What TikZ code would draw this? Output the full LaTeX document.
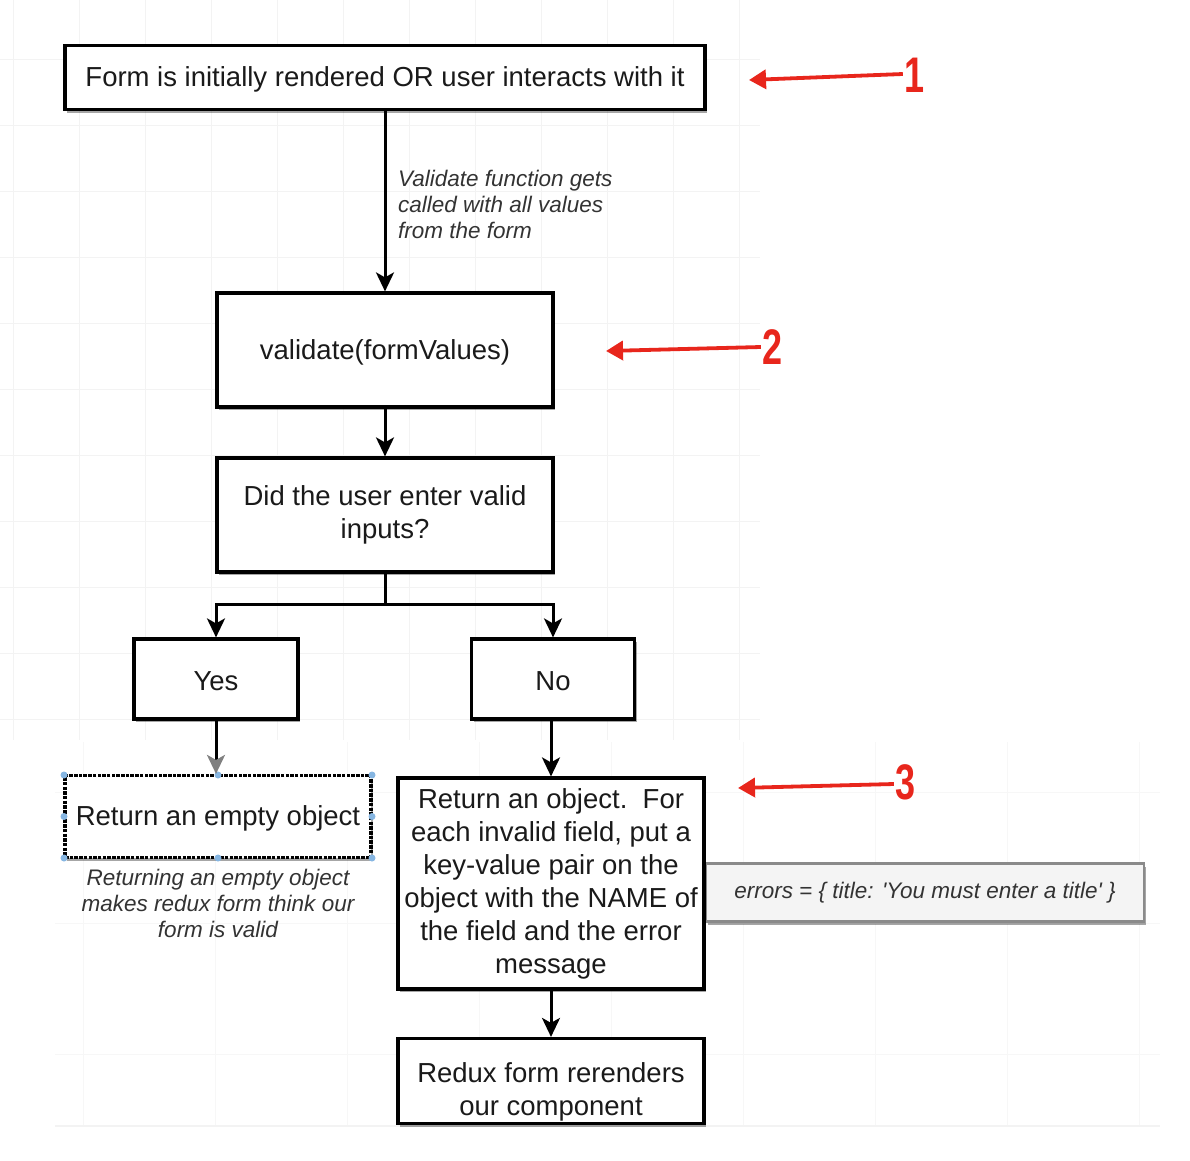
\documentclass[tikz,border=0pt]{standalone}
\usepackage{fontspec}
\usepackage{graphicx}
\setmainfont{Liberation Sans}
\newfontfamily\errfamily{Liberation Sans}[Ligatures=TeXOff]
\usetikzlibrary{arrows.meta,shadows}
\definecolor{arrred}{HTML}{E8261C}
\definecolor{txtdark}{HTML}{1A1A1A}
\definecolor{lbl}{HTML}{333333}
\definecolor{gridc}{HTML}{F3F3F3}
\definecolor{handle}{HTML}{86B6E2}
\definecolor{errfill}{HTML}{F4F4F4}
\definecolor{errdraw}{HTML}{8A8A8A}
\newcommand{\boxfont}{\fontsize{27.5}{33}\selectfont}
\newcommand{\lblfont}{\fontsize{22.5}{26}\selectfont\itshape}
\newcommand{\errfont}{\errfamily\fontsize{22.5}{26}\selectfont\itshape}
\newcommand{\numfont}[1]{\scalebox{0.72}[1]{\fontsize{50}{50}\selectfont\bfseries #1}}
\begin{document}
\begin{tikzpicture}[x=1pt,y=-1pt,
  box/.style={draw=black, line width=3.2pt, fill=white, inner sep=0pt, align=center,
    font=\boxfont, text=txtdark,
    drop shadow={shadow xshift=2pt, shadow yshift=-3pt, opacity=0.35, fill=black}},
  txt/.style={inner sep=0pt, align=center, font=\boxfont, text=txtdark},
  lbltxt/.style={inner sep=0pt, font=\lblfont, text=lbl},
  arr/.style={line width=3pt, draw=black, -{Stealth[length=19pt, width=18pt, inset=5pt]}},
  redarr/.style={line width=3.8pt, draw=arrred, -{Triangle[length=17pt, width=19pt]}},
  num/.style={inner sep=0pt, text=arrred},
  hnd/.style={circle, fill=handle, inner sep=0pt, minimum size=7pt}
]
\useasboundingbox (0,0) rectangle (1190,1160);
\fill[white] (0,0) rectangle (1190,1160);
% background grid (upper canvas)
\begin{scope}
  \clip (0,0) rectangle (760,740);
  \foreach \gx in {13,79,...,760} \draw[gridc, line width=1pt] (\gx,0) -- (\gx,740);
  \foreach \gy in {59,125,...,740} \draw[gridc, line width=1pt] (0,\gy) -- (760,\gy);
\end{scope}
% lower canvas faint grid
\begin{scope}
  \clip (55,742) rectangle (1160,1125);
  \foreach \gx in {83,215,...,1160} \draw[gridc!70, line width=1pt] (\gx,742) -- (\gx,1125);
  \foreach \gy in {792,923,1054} \draw[gridc!70, line width=1pt] (55,\gy) -- (1160,\gy);
\end{scope}
\draw[gridc, line width=2pt] (55,1126) -- (1160,1126);

% nodes
\node[box, minimum width=640, minimum height=64] (start) at (385,77.5)
  {\rule{0pt}{23pt}Form is initially rendered OR user interacts with it};
\node[box, minimum width=336, minimum height=114] (validate) at (385,350)
  {\rule{0pt}{24pt}validate(formValues)};
\node[box, minimum width=336, minimum height=114] (check) at (385,515)
  {Did the user enter valid\\inputs?};
\node[box, minimum width=164, minimum height=80] (yes) at (216,679) {\rule{0pt}{23pt}Yes};
\node[box, minimum width=163, minimum height=80] (no) at (553,679) {\rule{0pt}{23pt}No};

\node[box, draw=errdraw, fill=errfill, line width=2.6pt, minimum width=438, minimum height=58,
      font=\errfont, text=lbl] (errors) at (925,892.5)
  {errors = \{ title: 'You must enter a title' \}};

\node[box, minimum width=306, minimum height=82, dash pattern=on 3.5pt off 1.2pt] (empty) at (218,816.5)
  {\rule{0pt}{24pt}Return an empty object};
\node[box, minimum width=306, minimum height=211] (object) at (551,883.5)
  {Return an object.\ \ For\\each invalid field, put a\\key-value pair on the\\object with the NAME of\\the field and the error\\message};
\node[box, minimum width=306, minimum height=85] (final) at (551,1081) {};
\node[txt] (finaltxt) at (551,1092) {Redux form rerenders\\our component};

% labels
\node[lbltxt, anchor=west, align=left] (vlabel) at (398,204)
  {Validate function gets\\called with all values\\from the form};
\node[lbltxt, align=center] (elabel) at (218,903)
  {Returning an empty object\\makes redux form think our\\form is valid};

% selection handles
\foreach \hx/\hy [count=\i] in {64/775,218/775,372/775,64/816.5,372/816.5,64/858,218/858,372/858}
  \node[hnd] (h\i) at (\hx,\hy) {};

% connectors
\coordinate (split) at (385,604);
\draw[arr] (start.south) -- (validate.north);
\draw[arr] (validate.south) -- (check.north);
\draw[line width=3pt] (check.south) -- (split);
\draw[arr] (split) -| (yes.north);
\draw[arr] (split) -| (no.north);
\draw[line width=3pt, draw=black, -{Stealth[length=19pt, width=18pt, inset=5pt, color=gray]}] (yes.south) -- (yes.south |- empty.north);
\draw[arr] (no.south -| object.north) -- (object.north);
\draw[arr] (object.south) -- (final.north);

% red markers
\node[num] (n1) at (914,75) {\numfont{1}};
\node[num] (n2) at (772,347) {\numfont{2}};
\node[num] (n3) at (905,782) {\numfont{3}};
\coordinate (t1) at (749,80);
\coordinate (t2) at (606,351);
\coordinate (t3) at (738,788);
\draw[redarr] (n1.west) ++(-1,-1) -- (t1);
\draw[redarr] (n2.west) ++(-1,0) -- (t2);
\draw[redarr] (n3.west) ++(-1,2) -- (t3);
\end{tikzpicture}
\end{document}
